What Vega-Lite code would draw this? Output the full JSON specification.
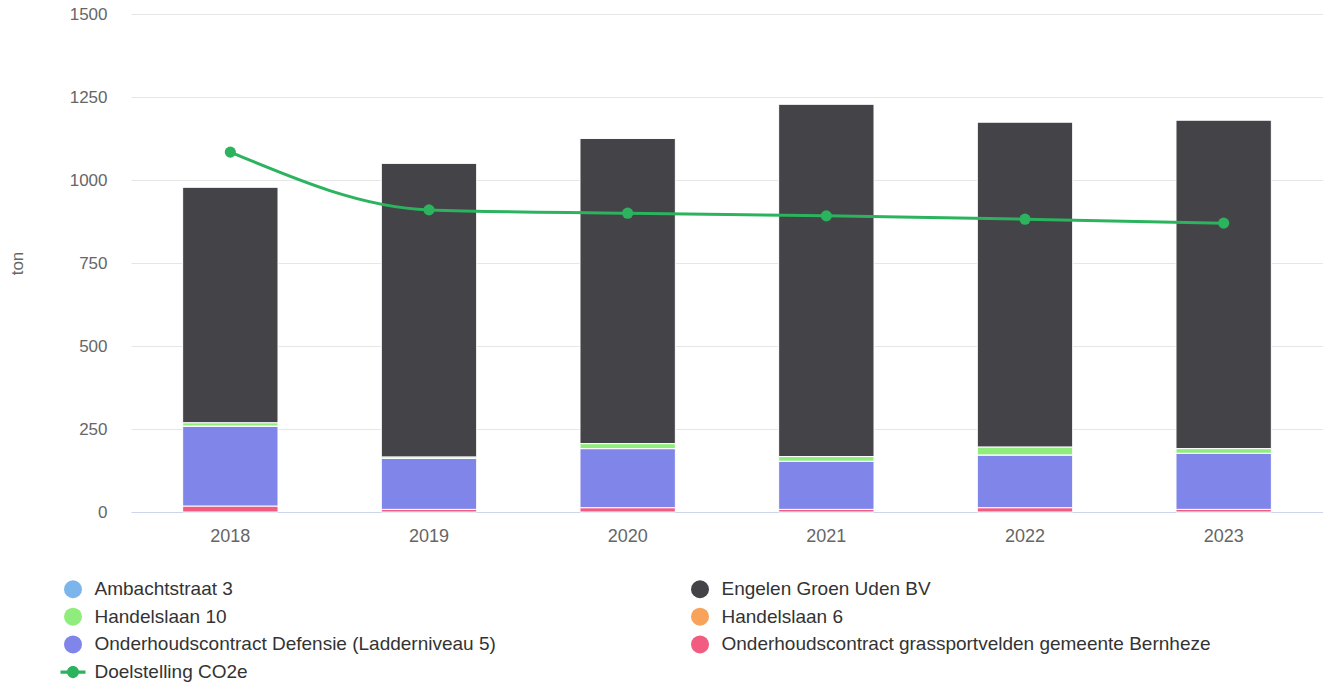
{
  "$schema": "https://vega.github.io/schema/vega-lite/v6.json",
  "width": 1192,
  "height": 498,
  "autosize": {"type": "none"},
  "padding": {"left": 131, "top": 14, "right": 0, "bottom": 172},
  "background": "white",
  "config": {
    "view": {"stroke": null},
    "font": "Liberation Sans"
  },
  "datasets": {
    "bars": [
      {"year": "2018", "series": "Onderhoudscontract grassportvelden gemeente Bernheze", "rank": 1, "value": 18},
      {"year": "2018", "series": "Onderhoudscontract Defensie (Ladderniveau 5)", "rank": 2, "value": 241},
      {"year": "2018", "series": "Handelslaan 6", "rank": 3, "value": 0},
      {"year": "2018", "series": "Handelslaan 10", "rank": 4, "value": 10},
      {"year": "2018", "series": "Engelen Groen Uden BV", "rank": 5, "value": 710},
      {"year": "2018", "series": "Ambachtstraat 3", "rank": 6, "value": 0},
      {"year": "2019", "series": "Onderhoudscontract grassportvelden gemeente Bernheze", "rank": 1, "value": 8},
      {"year": "2019", "series": "Onderhoudscontract Defensie (Ladderniveau 5)", "rank": 2, "value": 154},
      {"year": "2019", "series": "Handelslaan 6", "rank": 3, "value": 0},
      {"year": "2019", "series": "Handelslaan 10", "rank": 4, "value": 4},
      {"year": "2019", "series": "Engelen Groen Uden BV", "rank": 5, "value": 885},
      {"year": "2019", "series": "Ambachtstraat 3", "rank": 6, "value": 0},
      {"year": "2020", "series": "Onderhoudscontract grassportvelden gemeente Bernheze", "rank": 1, "value": 13},
      {"year": "2020", "series": "Onderhoudscontract Defensie (Ladderniveau 5)", "rank": 2, "value": 178},
      {"year": "2020", "series": "Handelslaan 6", "rank": 3, "value": 0},
      {"year": "2020", "series": "Handelslaan 10", "rank": 4, "value": 15},
      {"year": "2020", "series": "Engelen Groen Uden BV", "rank": 5, "value": 920},
      {"year": "2020", "series": "Ambachtstraat 3", "rank": 6, "value": 0},
      {"year": "2021", "series": "Onderhoudscontract grassportvelden gemeente Bernheze", "rank": 1, "value": 8},
      {"year": "2021", "series": "Onderhoudscontract Defensie (Ladderniveau 5)", "rank": 2, "value": 145},
      {"year": "2021", "series": "Handelslaan 6", "rank": 3, "value": 0},
      {"year": "2021", "series": "Handelslaan 10", "rank": 4, "value": 14},
      {"year": "2021", "series": "Engelen Groen Uden BV", "rank": 5, "value": 1062},
      {"year": "2021", "series": "Ambachtstraat 3", "rank": 6, "value": 0},
      {"year": "2022", "series": "Onderhoudscontract grassportvelden gemeente Bernheze", "rank": 1, "value": 13},
      {"year": "2022", "series": "Onderhoudscontract Defensie (Ladderniveau 5)", "rank": 2, "value": 159},
      {"year": "2022", "series": "Handelslaan 6", "rank": 3, "value": 0},
      {"year": "2022", "series": "Handelslaan 10", "rank": 4, "value": 24},
      {"year": "2022", "series": "Engelen Groen Uden BV", "rank": 5, "value": 979},
      {"year": "2022", "series": "Ambachtstraat 3", "rank": 6, "value": 0},
      {"year": "2023", "series": "Onderhoudscontract grassportvelden gemeente Bernheze", "rank": 1, "value": 8},
      {"year": "2023", "series": "Onderhoudscontract Defensie (Ladderniveau 5)", "rank": 2, "value": 169},
      {"year": "2023", "series": "Handelslaan 6", "rank": 3, "value": 0},
      {"year": "2023", "series": "Handelslaan 10", "rank": 4, "value": 14},
      {"year": "2023", "series": "Engelen Groen Uden BV", "rank": 5, "value": 990},
      {"year": "2023", "series": "Ambachtstraat 3", "rank": 6, "value": 0}
    ],
    "target": [
      {"year": "2018", "series": "Doelstelling CO2e", "value": 1084},
      {"year": "2019", "series": "Doelstelling CO2e", "value": 910},
      {"year": "2020", "series": "Doelstelling CO2e", "value": 900},
      {"year": "2021", "series": "Doelstelling CO2e", "value": 892},
      {"year": "2022", "series": "Doelstelling CO2e", "value": 882},
      {"year": "2023", "series": "Doelstelling CO2e", "value": 870}
    ]
  },
  "encoding": {
    "x": {
      "field": "year",
      "type": "nominal",
      "scale": {"paddingInner": 0.52, "paddingOuter": 0.26},
      "axis": {
        "title": null,
        "labelAngle": 0,
        "labelColor": "#666666",
        "labelFontSize": 18,
        "labelPadding": 15,
        "ticks": false,
        "domainColor": "#ccd6eb",
        "domainWidth": 1,
        "grid": false
      }
    },
    "y": {
      "field": "value",
      "type": "quantitative",
      "scale": {"domain": [0, 1500], "nice": false},
      "axis": {
        "title": "ton",
        "titleColor": "#666666",
        "titleFontSize": 17,
        "titleFontWeight": "normal",
        "titleX": -114,
        "titleY": 249,
        "titleAlign": "center",
        "titleBaseline": "middle",
        "titleAngle": -90,
        "values": [0, 250, 500, 750, 1000, 1250, 1500],
        "format": "d",
        "labelColor": "#666666",
        "labelFontSize": 17,
        "labelPadding": 24,
        "ticks": false,
        "domain": false,
        "gridColor": "#e6e6e6",
        "gridWidth": 1
      }
    },
    "color": {
      "field": "series",
      "type": "nominal",
      "scale": {
        "domain": ["Ambachtstraat 3", "Engelen Groen Uden BV", "Handelslaan 10", "Handelslaan 6", "Onderhoudscontract Defensie (Ladderniveau 5)", "Onderhoudscontract grassportvelden gemeente Bernheze", "Doelstelling CO2e"],
        "range": ["#7cb5ec", "#434348", "#90ed7d", "#f7a35c", "#8085e9", "#f15c80", "#2bb35e"]
      },
      "legend": {
        "title": null,
        "orient": "none",
        "legendX": -67.5,
        "legendY": 565.5,
        "direction": "horizontal",
        "columns": 2,
        "columnPadding": 194,
        "rowPadding": 7.7,
        "labelFontSize": 19,
        "labelColor": "#333333",
        "labelOffset": 12,
        "labelLimit": 800,
        "symbolSize": 324,
        "symbolStrokeWidth": 0,
        "encode": {
          "symbols": {
            "update": {
              "shape": {"signal": "datum.value === 'Doelstelling CO2e' ? 'M-1.39,-0.17L1.39,-0.17L1.39,0.17L-1.39,0.17Z M-0.67,0A0.67,0.67 0 1,1 0.67,0A0.67,0.67 0 1,1 -0.67,0Z' : 'circle'"},
              "fill": {"scale": "color", "field": "value"},
              "stroke": {"value": "transparent"},
              "opacity": {"value": 1}
            }
          }
        }
      }
    }
  },
  "layer": [
    {
      "data": {"name": "bars"},
      "mark": {"type": "bar", "stroke": "white", "strokeWidth": 1},
      "encoding": {
        "y": {"field": "value", "type": "quantitative", "stack": "zero"},
        "order": {"field": "rank", "type": "quantitative", "sort": "ascending"}
      }
    },
    {
      "data": {"name": "target"},
      "mark": {"type": "line", "interpolate": "monotone", "strokeWidth": 3}
    },
    {
      "data": {"name": "target"},
      "mark": {"type": "point", "filled": true, "size": 125, "opacity": 1}
    }
  ]
}
